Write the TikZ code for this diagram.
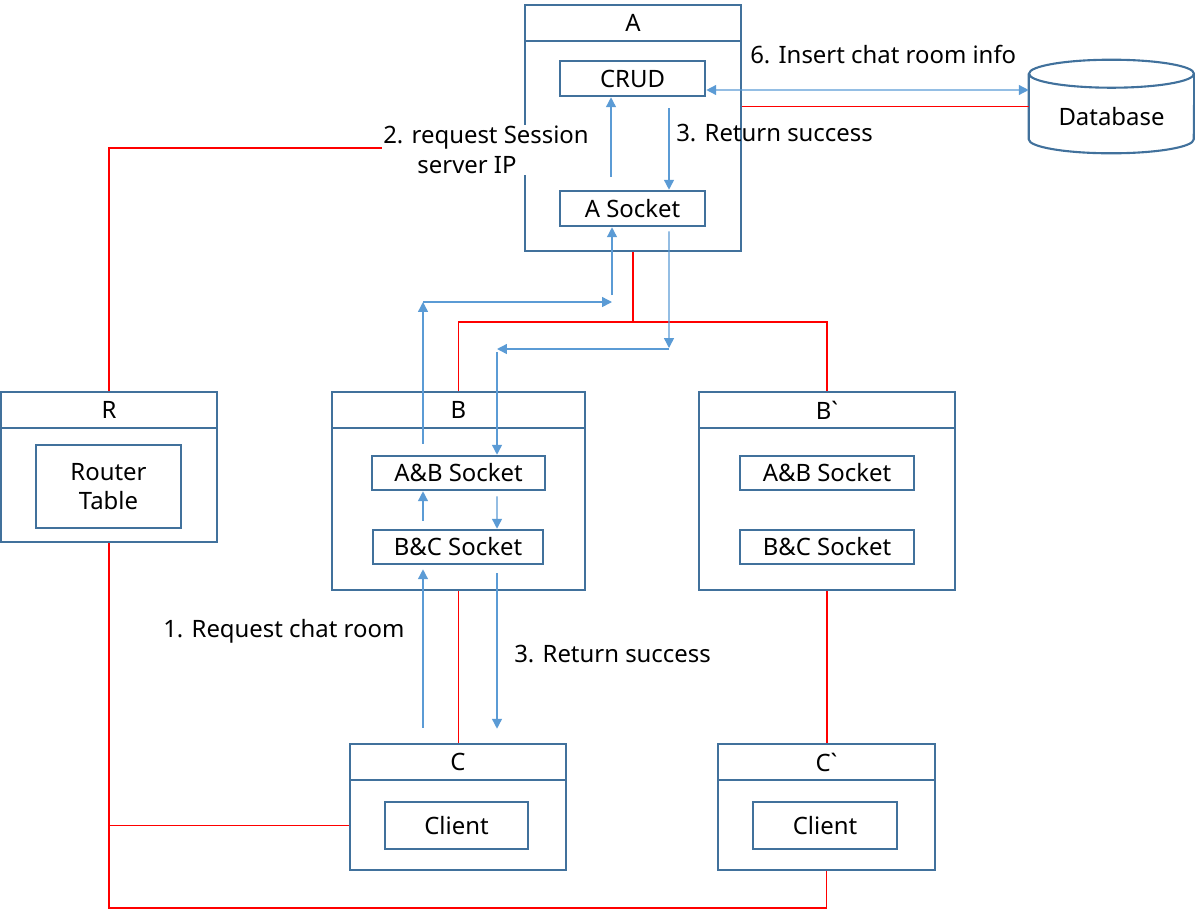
\documentclass[tikz,border=0pt]{standalone}
\usepackage{fontspec}
\setmainfont{Noto Sans}
\usetikzlibrary{arrows.meta, calc, positioning}
\definecolor{boxblue}{HTML}{41719C}
\definecolor{arrblue}{HTML}{5B9BD5}
\definecolor{linkred}{HTML}{FF0000}

\tikzset{
  outer/.style = {draw=boxblue, line width=1.8pt, fill=white, inner sep=0pt},
  inner/.style = {draw=boxblue, line width=1.8pt, inner sep=0pt},
  flow/.style = {draw=arrblue, line width=1pt, -{Triangle[length=7pt,width=7pt]}},
  flowboth/.style = {draw=arrblue, line width=1pt, {Triangle[length=7pt,width=7pt]}-{Triangle[length=7pt,width=7pt]}},
  link/.style = {draw=linkred, line width=0.8pt},
  note/.style = {inner sep=0pt, anchor=west},
}

\begin{document}
\begin{tikzpicture}[x=0.025cm, y=-0.025cm, font=\fontsize{17}{21}\selectfont]
\useasboundingbox (0,0) rectangle (1195,909);

% servers
\node[outer, minimum width=5.4cm, minimum height=6.15cm] (A) at (633,128) {};
\node[outer, minimum width=5.4cm, minimum height=0.9cm, anchor=north] (Ah) at (A.north) {A};
\node[inner, minimum width=3.625cm, minimum height=0.875cm] (crud) at (632.5,78.5) {CRUD};
\node[inner, minimum width=3.625cm, minimum height=0.875cm] (asock) at (632.5,208.5) {A Socket};

\node[outer, minimum width=6.325cm, minimum height=4.95cm] (B) at (458.5,491) {};
\node[outer, minimum width=6.325cm, minimum height=0.9cm, anchor=north] (Bh) at (B.north) {B};
\node[inner, minimum width=4.325cm, minimum height=0.85cm] (bab) at (458.5,473) {A\&B Socket};
\node[inner, minimum width=4.25cm, minimum height=0.85cm] (bbc) at (458,547) {B\&C Socket};

\node[outer, minimum width=6.4cm, minimum height=4.95cm] (Bp) at (827,491) {};
\node[outer, minimum width=6.4cm, minimum height=0.9cm, anchor=north] (Bph) at (Bp.north) {B\textasciigrave};
\node[inner, minimum width=4.35cm, minimum height=0.85cm] (bpab) at (827,473) {A\&B Socket};
\node[inner, minimum width=4.35cm, minimum height=0.85cm] (bpbc) at (827,547) {B\&C Socket};

\node[outer, minimum width=5.4cm, minimum height=3.75cm] (R) at (109,467) {};
\node[outer, minimum width=5.4cm, minimum height=0.9cm, anchor=north] (Rh) at (R.north) {R};
\node[inner, minimum width=3.625cm, minimum height=2.075cm, align=center] (rt) at (108.5,486.5) {Router\\Table};

\node[outer, minimum width=5.4cm, minimum height=3.15cm] (C) at (458,807) {};
\node[outer, minimum width=5.4cm, minimum height=0.9cm, anchor=north] (Ch) at (C.north) {C};
\node[inner, minimum width=3.575cm, minimum height=1.175cm] (cl) at (456.5,825.5) {Client};

\node[outer, minimum width=5.425cm, minimum height=3.15cm] (Cp) at (826.5,807) {};
\node[outer, minimum width=5.425cm, minimum height=0.9cm, anchor=north] (Cph) at (Cp.north) {C\textasciigrave};
\node[inner, minimum width=3.6cm, minimum height=1.175cm] (cpl) at (825,825.5) {Client};

% database
\node[minimum width=4.125cm, minimum height=2.325cm, inner sep=0pt] (db) at (1111.5,106.5) {};
\draw[boxblue, line width=1.5pt] ($(db.north)+(0,14)$) ellipse [x radius=2.0625cm, y radius=0.35cm];
\draw[boxblue, line width=1.5pt] ($(db.north west)+(0,14)$) -- ($(db.south west)+(0,-14)$)
  arc[start angle=180, end angle=360, x radius=2.0625cm, y radius=0.35cm] -- ($(db.north east)+(0,14)$);
\node (dbt) at (1111.5,117) {Database};

% red links
\coordinate (bus) at (633,322);
\coordinate (lowbus) at (0,908);
\draw[link] (A.east |- db.west) -- (db.west);
\draw[link] (R.north) |- ($(A.west)+(0,20)$);
\draw[link] (A.south) -- (bus);
\draw[link] (B.north) |- (bus) -| (Bp.north);
\draw[link] (B.south) -- (B.south |- C.north);
\draw[link] (Bp.south) -- (Bp.south |- Cp.north);
\draw[link] (R.south) |- (Cp.south |- lowbus) -- (Cp.south);
\draw[link] (C.west |- cl) -- (R.south |- cl);

\node[fill=white, inner sep=1pt, align=center] (req) at (486,150) {2. request Session\\server IP\hspace*{0.95cm}};

% blue flows
\draw[flowboth] ($(crud.east)+(0,11.5)$) -- ($(db.west)+(0,-16.5)$);
\draw[flow] ($(asock.north)+(-21.5,-13)$) -- ($(crud.south)+(-21.5,0)$);
\draw[flow] ($(crud.south)+(36.5,11)$) -- ($(asock.north)+(36.5,0)$);

\coordinate (upL) at (423,302);
\coordinate (upR) at (612,302);
\draw[flow] ($(bab.north)+(-35.5,-11)$) -- (upL);
\draw[flow] (upL) -- (upR);
\draw[flow] ($(upR)+(0,-7)$) -- (asock.south -| upR);

\coordinate (dnR) at (669,349);
\coordinate (dnL) at (497,349);
\draw[flow] ($(asock.south)+(36.5,4)$) -- ($(dnR)+(0,-1)$);
\draw[flow] (dnR) -- (dnL);
\draw[flow] ($(dnL)+(0,3)$) -- (bab.north -| dnL);

\draw[flow] ($(bbc.north)+(-35,-8)$) -- (bab.south -| upL);
\draw[flow] ($(bab.south)+(38.5,5)$) -- (bbc.north -| dnL);
\draw[flow] ($(C.north)+(-35,-15)$) -- ($(bbc.south -| upL)+(0,4)$);
\draw[flow] ($(bbc.south -| dnL)+(0,8)$) -- ($(C.north -| dnL)+(0,-14)$);

% labels
\node[note] (l6) at (750,55) {6. Insert chat room info};
\node[note] (l3a) at (676,133) {3. Return success};
\node[note] (l1) at (163,631) {1. Request chat room};
\node[note] (l3b) at (514,654) {3. Return success};
\end{tikzpicture}
\end{document}
